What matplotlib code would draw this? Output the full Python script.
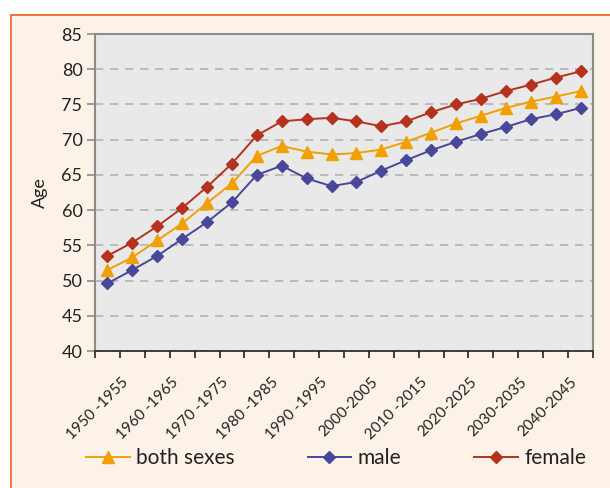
import matplotlib
matplotlib.use("Agg")
import matplotlib.pyplot as plt
import matplotlib.patches as patches
import matplotlib.transforms as mtransforms
import numpy as np

plt.rcParams['font.family'] = ['Lato', 'DejaVu Sans']

# periods 1950-1955 ... 2045-2050
periods = [f"{y}-{y + 5}" for y in range(1950, 2050, 5)]
tick_labels = ["1950 -1955", "1960 -1965", "1970 -1975", "1980 -1985", "1990 -1995",
               "2000-2005", "2010 -2015", "2020-2025", "2030-2035", "2040-2045"]

both_sexes = [51.5, 53.3, 55.7, 58.1, 61.0, 63.8, 67.7, 69.1, 68.3, 67.9,
              68.1, 68.6, 69.7, 71.0, 72.3, 73.4, 74.5, 75.4, 76.1, 76.9]
male = [49.6, 51.5, 53.5, 55.9, 58.3, 61.1, 65.0, 66.3, 64.5, 63.4,
        64.0, 65.6, 67.1, 68.5, 69.7, 70.8, 71.8, 72.9, 73.6, 74.5]
female = [53.5, 55.4, 57.7, 60.3, 63.3, 66.6, 70.6, 72.6, 72.9, 73.1,
          72.6, 71.9, 72.6, 73.9, 75.0, 75.8, 76.9, 77.8, 78.8, 79.7]

c_both = '#f0a000'
c_male = '#48479a'
c_female = '#b5321e'

fig = plt.figure(figsize=(6.1, 4.88), dpi=100)
fig.patch.set_facecolor('white')

# cream panel with orange border
panel = patches.Rectangle((11 / 610, -0.05), 1.0, 1 - 15 / 488 + 0.05,
                          transform=fig.transFigure, facecolor='#fdf2e7',
                          edgecolor='#f06a2a', linewidth=1.3, zorder=-10)
fig.patches.append(panel)

ax = fig.add_axes([95 / 610, 1 - 351 / 488, (593 - 95) / 610, (351 - 34) / 488])
ax.set_facecolor('#e9e9e9')

x = np.arange(len(periods))
ax.plot(x, both_sexes, color=c_both, lw=1.4, marker='^', ms=9, label='both sexes', zorder=3)
ax.plot(x, male, color=c_male, lw=1.4, marker='D', ms=6.5, label='male', zorder=3)
ax.plot(x, female, color=c_female, lw=1.4, marker='D', ms=6.5, label='female', zorder=3)

ax.set_xlim(-0.5, len(periods) - 0.5)
ax.set_ylim(40, 85)
ax.set_yticks(np.arange(40, 86, 5))
ax.yaxis.grid(True, color='#b4b4b4', linestyle=(0, (5, 4)), linewidth=1.2)
ax.set_axisbelow(True)

ax.set_xticks(x[::2])
ax.set_xticklabels(tick_labels, rotation=45, ha='right', va='center',
                   rotation_mode='anchor', fontsize=11, color='#222222')
ax.set_xticks(np.arange(-0.5, len(periods)), minor=True)
ax.tick_params(axis='x', which='major', length=0, pad=0)
ax.tick_params(axis='x', which='minor', length=5, width=1.2, color='#222222')
offset = mtransforms.ScaledTranslation(19 / 100, -29 / 100, fig.dpi_scale_trans)
for lbl in ax.get_xticklabels():
    lbl.set_transform(lbl.get_transform() + offset)

ax.tick_params(axis='y', length=6, width=1.2, color='#8c8c8c', labelsize=13,
               labelcolor='#222222', pad=3)

for side in ['left', 'top', 'right']:
    ax.spines[side].set_color('#8c8c8c')
    ax.spines[side].set_linewidth(1.5)
ax.spines['bottom'].set_color('#222222')
ax.spines['bottom'].set_linewidth(1.2)

ax.set_ylabel('Age', fontsize=13, color='#222222', labelpad=10)

fig.legend(loc='center', bbox_to_anchor=(336 / 610, 1 - 458 / 488), ncol=3,
           frameon=False, fontsize=15, handlelength=2.1, columnspacing=3.5,
           handletextpad=0.3, labelcolor='#222222')

fig.savefig('out.png', dpi=100, facecolor=fig.get_facecolor())
